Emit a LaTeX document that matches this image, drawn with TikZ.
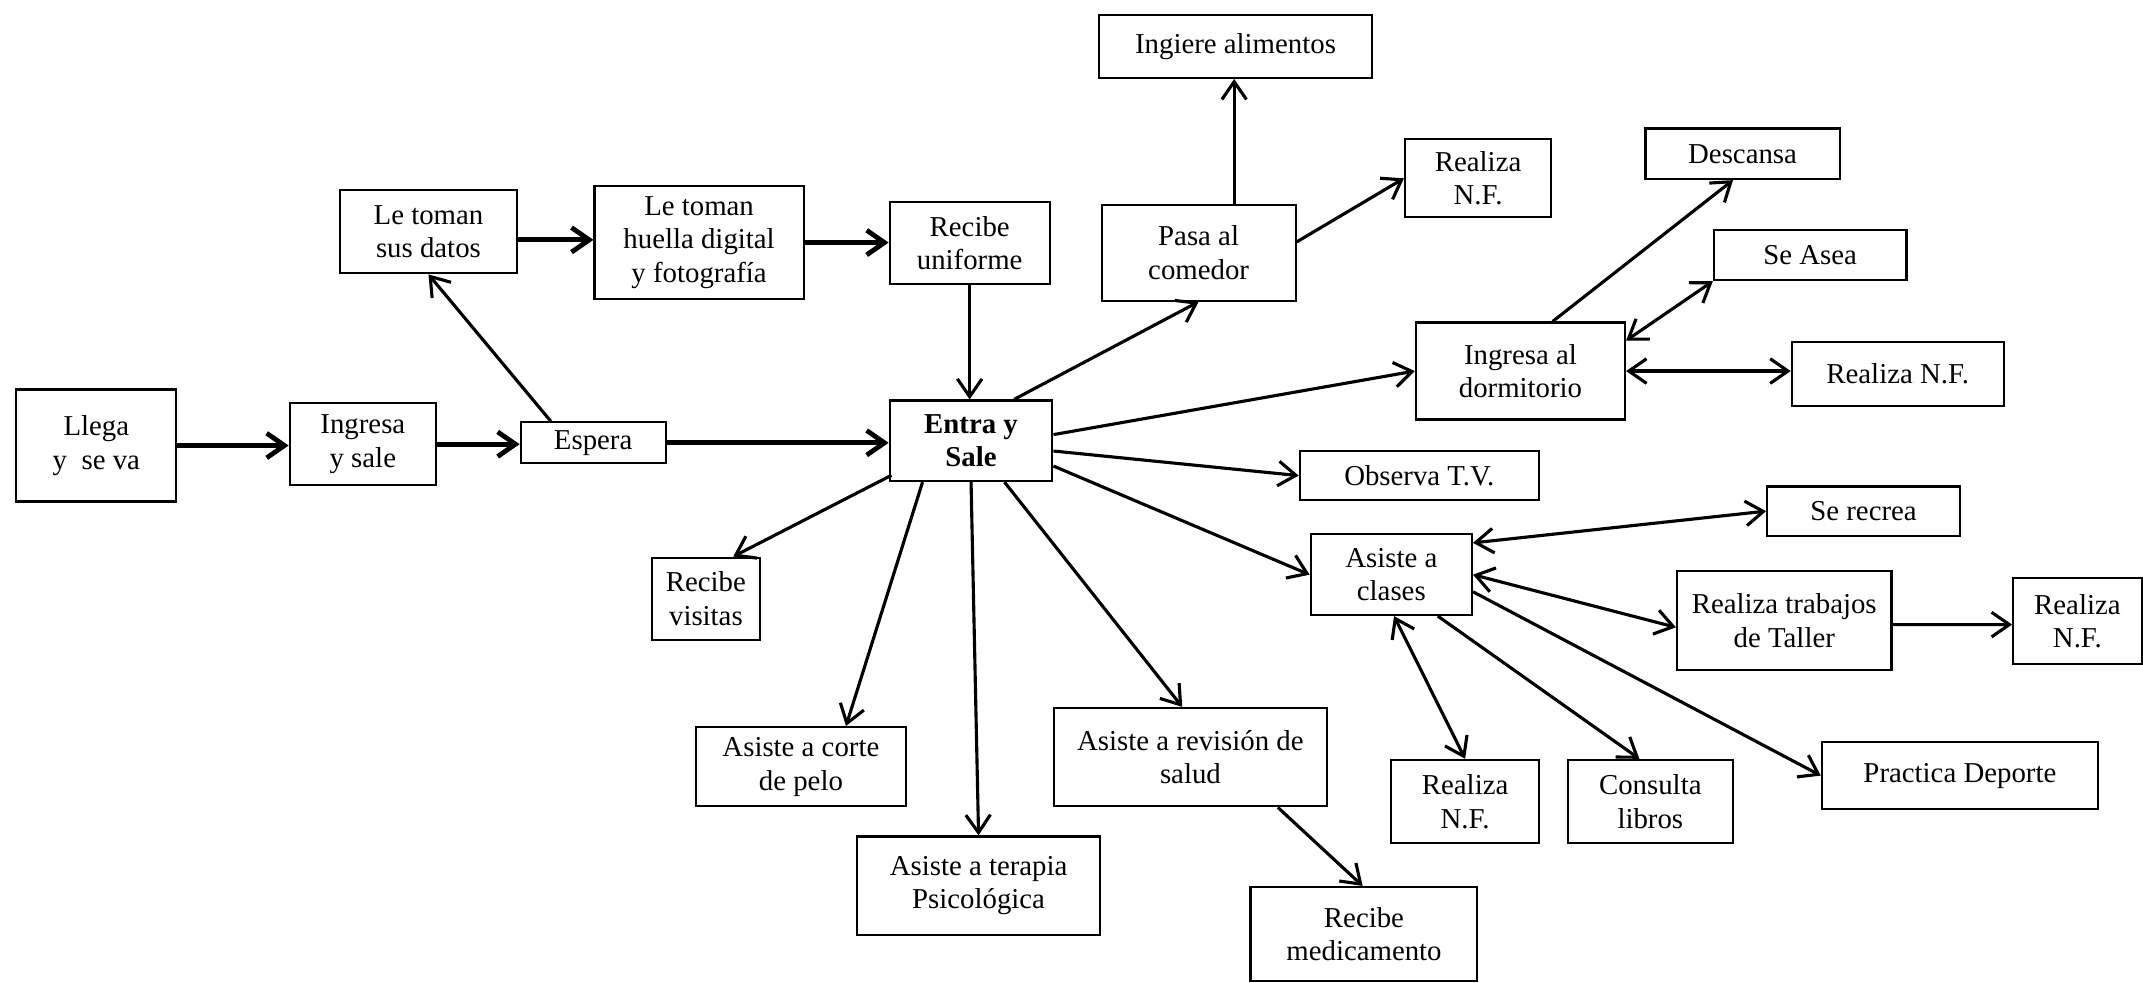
\documentclass[tikz,border=0pt]{standalone}
\usepackage{fontspec}
\setmainfont{Liberation Serif}
\usetikzlibrary{arrows.meta,calc}
\begin{document}
\begin{tikzpicture}[x=0.02cm,y=-0.02cm,
  box/.style={draw,line width=0.9pt,align=center,inner sep=1pt,font=\fontsize{12}{14}\selectfont},
  arr/.style={line width=1.3pt,-{Straight Barb[length=2.6mm,width=3.6mm]}},
  darr/.style={line width=1.3pt,{Straight Barb[length=2.6mm,width=3.6mm]}-{Straight Barb[length=2.6mm,width=3.6mm]}},
  harr/.style={arr,line width=2pt}]
\useasboundingbox[fill=white] (0,0) rectangle (1568,719);

\node[box,minimum width=2.34cm,minimum height=1.64cm] (llega) at (70.5,326) {Llega\\y~ se va};
\node[box,minimum width=2.14cm,minimum height=1.2cm] (ingresa) at (265.5,325) {Ingresa\\y sale};
\node[box,minimum width=2.12cm,minimum height=0.6cm] (espera) at (434,324) {Espera};
\node[box,minimum width=2.58cm,minimum height=1.22cm] (datos) at (313.5,169.5) {Le toman\\sus datos};
\node[box,minimum width=3.06cm,minimum height=1.66cm] (huella) at (511.5,177.5) {Le toman\\huella digital\\y fotografía};
\node[box,minimum width=2.34cm,minimum height=1.2cm] (uniforme) at (709.5,178) {Recibe\\uniforme};
\node[box,minimum width=2.38cm,minimum height=1.18cm,font=\fontsize{12}{14}\selectfont\bfseries] (entra) at (710.5,322.5) {Entra y\\Sale};
\node[box,minimum width=2.84cm,minimum height=1.4cm] (pasa) at (877,185) {Pasa al\\comedor};
\node[box,minimum width=4.0cm,minimum height=0.92cm] (ingiere) at (904,34) {Ingiere alimentos};
\node[box,minimum width=2.14cm,minimum height=1.14cm] (nfa) at (1081.5,130.5) {Realiza\\N.F.};
\node[box,minimum width=2.84cm,minimum height=0.74cm] (descansa) at (1275,112.5) {Descansa};
\node[box,minimum width=2.82cm,minimum height=0.74cm] (asea) at (1324.5,186.5) {Se Asea};
\node[box,minimum width=3.06cm,minimum height=1.42cm] (dorm) at (1112.5,271.5) {Ingresa al\\dormitorio};
\node[box,minimum width=3.1cm,minimum height=0.94cm] (nfb) at (1388.5,273.5) {Realiza N.F.};
\node[box,minimum width=3.5cm,minimum height=0.72cm] (tv) at (1038.5,348) {Observa T.V.};
\node[box,minimum width=2.82cm,minimum height=0.72cm] (recrea) at (1363.5,374) {Se recrea};
\node[box,minimum width=2.36cm,minimum height=1.18cm] (clases) at (1018,420.5) {Asiste a\\clases};
\node[box,minimum width=3.14cm,minimum height=1.44cm] (taller) at (1305.5,454) {Realiza trabajos\\de Taller};
\node[box,minimum width=1.88cm,minimum height=1.26cm] (nfc) at (1520,454.5) {Realiza\\N.F.};
\node[box,minimum width=4.04cm,minimum height=0.98cm] (deporte) at (1434,567.5) {Practica Deporte};
\node[box,minimum width=2.16cm,minimum height=1.22cm] (nfd) at (1072,586.5) {Realiza\\N.F.};
\node[box,minimum width=2.42cm,minimum height=1.22cm] (libros) at (1207.5,586.5) {Consulta\\libros};
\node[box,minimum width=1.58cm,minimum height=1.2cm] (visitas) at (516.5,438) {Recibe\\visitas};
\node[box,minimum width=3.08cm,minimum height=1.16cm] (corte) at (586,561) {Asiste a corte\\de pelo};
\node[box,minimum width=3.56cm,minimum height=1.44cm] (terapia) at (716,648) {Asiste a terapia\\Psicológica};
\node[box,minimum width=4.0cm,minimum height=1.44cm] (revision) at (871,554) {Asiste a revisión de\\salud};
\node[box,minimum width=3.32cm,minimum height=1.38cm] (medic) at (998,683.5) {Recibe\\medicamento};

% connectors
\draw[harr] (llega.east) -- (llega.east -| ingresa.west);
\draw[harr] (ingresa.east) -- (ingresa.east -| espera.west);
\draw[arr] ($(espera.north)+(-31,0)$) -- (datos.south);
\draw[harr] ($(datos.east)+(0,6)$) -- ($(huella.west)+(0,-2)$);
\draw[harr] (huella.east) -- (huella.east -| uniforme.west);
\draw[arr] (uniforme.south) -- (uniforme.south |- entra.north);
\draw[harr] (espera.east) -- (espera.east -| entra.west);
\draw[arr] ($(entra.north)+(31.5,0)$) -- (pasa.south);
\draw[arr] ($(pasa.north)+(26,0)$) -- ($(ingiere.south)+(-1,0)$);
\draw[arr] ($(pasa.east)+(0,-8)$) -- (nfa.west);
\draw[arr] ($(dorm.north)+(23.5,0)$) -- ($(descansa.south)+(-7,0)$);
\draw[darr] ($(dorm.north east)+(0,14)$) -- (asea.south west);
\draw[darr] (dorm.east) -- (dorm.east -| nfb.west);
\draw[arr] ($(entra.east)+(0,-4.5)$) -- (dorm.west);
\draw[arr] ($(entra.east)+(0,7.5)$) -- (tv.west);
\draw[arr] ($(entra.east)+(0,18.5)$) -- (clases.west);
\draw[darr] ($(clases.north east)+(0,7)$) -- (recrea.west);
\draw[darr] (clases.east) -- ($(taller.west)+(0,5)$);
\draw[arr] ($(taller.east)+(0,3)$) -- ($(nfc.west)+(0,2.5)$);
\draw[arr] ($(clases.east)+(0,12.5)$) -- (deporte.west);
\draw[arr] ($(clases.south)+(34,0)$) -- ($(libros.north)+(-8,0)$);
\draw[darr] ($(clases.south)+(2,0)$) -- (nfd.north);
\draw[arr] ($(entra.south west)+(2,-5)$) -- ($(visitas.north)+(20,0)$);
\draw[arr] ($(entra.south)+(-35.5,0)$) -- ($(corte.north)+(33,0)$);
\draw[arr] (entra.south) -- (terapia.north);
\draw[arr] ($(entra.south)+(24.5,0)$) -- ($(revision.north)+(-6,0)$);
\draw[arr] ($(revision.south)+(64,0)$) -- ($(medic.north)+(-1,0)$);
\end{tikzpicture}
\end{document}
